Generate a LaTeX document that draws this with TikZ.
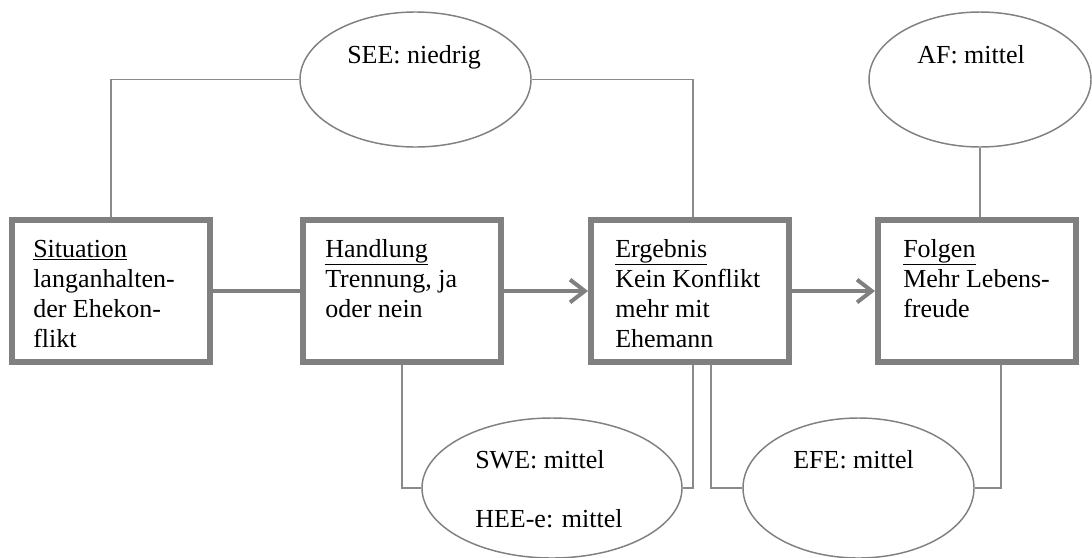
\documentclass[tikz,border=0pt]{standalone}
\usepackage{fontspec}
\setmainfont{Liberation Serif}
\usetikzlibrary{arrows.meta,shapes.geometric,calc}
\definecolor{bordergray}{HTML}{808080}
\definecolor{linegray}{HTML}{8A8A8A}
\begin{document}
\begin{tikzpicture}[x=0.75pt,y=-0.75pt,
  box/.style={draw=bordergray, line width=4.5pt, rectangle, inner sep=0pt,
    minimum width=148.5pt, minimum height=106.5pt},
  oval/.style={draw=bordergray, line width=1.1pt, ellipse, inner sep=0pt},
  txt/.style={anchor=north west, inner sep=0pt, align=left,
    font=\fontsize{19.5}{22.5}\selectfont},
  otxt/.style={anchor=base west, inner sep=0pt,
    font=\fontsize{19.5}{22.5}\selectfont},
  thinline/.style={draw=linegray, line width=1.1pt},
  conn/.style={draw=bordergray, line width=3pt},
  arr/.style={-{Straight Barb[length=11pt,width=17pt]}}]
\useasboundingbox (0,0) rectangle (1092,557);
% boxes
\node[box] (b1) at (111,291) {};
\node[box] (b2) at (402,291) {};
\node[box] (b3) at (690,291) {};
\node[box] (b4) at (977,291) {};
\node[txt] (t1) at (33,236) {\strut\underline{Situation}\\langanhalten-\\der Ehekon-\\flikt};
\node[txt] (t2) at (325,236) {\strut\underline{Handlung}\\Trennung, ja\\oder nein};
\node[txt] (t3) at (615,236) {\strut\underline{Ergebnis}\\Kein Konflikt\\mehr mit\\Ehemann};
\node[txt] (t4) at (903,236) {\strut\underline{Folgen}\\Mehr Lebens-\\freude};
% ellipses
\node[oval, minimum width=173.25pt, minimum height=101.25pt] (see) at (415.5,79.5) {};
\node[oval, minimum width=166.5pt, minimum height=101.25pt] (af) at (980,79.5) {};
\node[oval, minimum width=195pt, minimum height=105pt] (swe) at (552,488) {};
\node[oval, minimum width=173.25pt, minimum height=105pt] (efe) at (858.5,488) {};
\node[otxt] (seet) at (347,63) {SEE: niedrig};
\node[otxt] (aft) at (917,63) {AF: mittel};
\node[otxt] (swet) at (475,468) {SWE: mittel};
\node[otxt] (heet) at (475,527) {HEE-e: mittel};
\node[otxt] (efet) at (793,468) {EFE: mittel};
% thin connectors
\draw[thinline] (see.west) -| (b1.north);
\draw[thinline] (see.east) -| ($(b3.north)+(3,0)$);
\draw[thinline] (af.south) -- (af.south |- b4.north);
\draw[thinline] (b2.south) |- (swe.west);
\draw[thinline] (swe.east) -| ($(b3.south)+(3,0)$);
\draw[thinline] ($(b3.south)+(21,0)$) |- (efe.west);
\draw[thinline] (efe.east) -| ($(b4.south)+(24,0)$);
% thick connectors
\draw[conn] (b1.east) -- (b2.west);
\draw[conn,arr] (b2.east) -- (b3.west);
\draw[conn,arr] (b3.east) -- (b4.west);
\end{tikzpicture}
\end{document}
